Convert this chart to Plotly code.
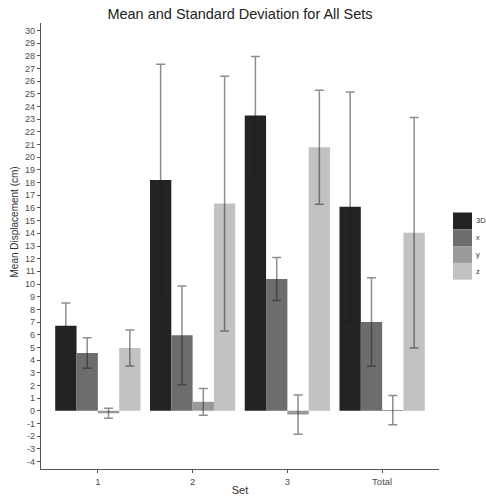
import plotly.graph_objects as go

sets = ["1", "2", "3", "Total"]
series = ["3D", "x", "y", "z"]
means = {
    "3D": [6.7, 18.2, 23.3, 16.1],
    "x": [4.55, 5.95, 10.4, 7.0],
    "y": [-0.2, 0.7, -0.3, 0.05],
    "z": [4.95, 16.35, 20.8, 14.05],
}
sds = {
    "3D": [1.8, 9.15, 4.65, 9.05],
    "x": [1.2, 3.9, 1.7, 3.5],
    "y": [0.4, 1.05, 1.55, 1.15],
    "z": [1.43, 10.05, 4.5, 9.1],
}
colors = {"3D": "#232323", "x": "#6d6d6d", "y": "#9a9a9a", "z": "#c2c2c2"}
y_ticks = list(range(-4, 31))

W, H = 486, 497
L, R, T, B = 41, 47, 23, 28
pw, ph = W - L - R, H - T - B

fig = go.Figure()
for s in series:
    fig.add_trace(go.Bar(
        name=s, x=sets, y=means[s], marker_color=colors[s],
        marker_line_width=0, showlegend=False,
        error_y=dict(type="data", array=sds[s], visible=True,
                     color="rgba(30,30,30,0.5)", thickness=1.5, width=4.5),
    ))

# legend (ggplot-style contiguous keys)
key_h = 16.8
key_top = 212.5
for i, s in enumerate(series):
    y0 = key_top + i * key_h
    y1 = y0 + key_h
    fig.add_shape(type="rect", xref="paper", yref="paper",
                  x0=(453 - L) / pw, x1=(472 - L) / pw,
                  y0=(H - B - y1) / ph, y1=(H - B - y0) / ph,
                  fillcolor=colors[s], line_width=0)
    fig.add_annotation(xref="paper", yref="paper", x=(474 - L) / pw,
                       y=(H - B - (y0 + y1) / 2) / ph, text=s, showarrow=False,
                       xanchor="left", yanchor="middle",
                       font=dict(size=7.5, color="#333333"))

# y-axis title (placed like the reference)
fig.add_annotation(xref="paper", yref="paper", x=(14 - L) / pw,
                   y=(H - B - 222.5) / ph, text="Mean Displacement (cm)",
                   textangle=-90, showarrow=False, xanchor="center", yanchor="middle",
                   font=dict(size=10, color="#333333"))

fig.update_layout(
    width=W, height=H,
    margin=dict(l=L, r=R, t=T, b=B, autoexpand=False),
    plot_bgcolor="white", paper_bgcolor="white",
    barmode="group", bargap=0.1, bargroupgap=0,
    font=dict(family="Liberation Sans, Arial, sans-serif", color="#333333"),
    title=dict(text="Mean and Standard Deviation for All Sets", x=(240) / W, xanchor="center",
               y=1 - 14 / H, yanchor="middle", font=dict(size=14.5, color="#222222")),
    showlegend=False,
    xaxis=dict(title=dict(text="Set", font=dict(size=11), standoff=0),
               showline=True, linecolor="#555555", linewidth=1.2,
               ticks="outside", ticklen=3, tickcolor="#555555",
               tickfont=dict(size=9.5, color="#4d4d4d"), showgrid=False,
               range=[-0.6, 3.6], automargin=False),
    yaxis=dict(showline=True, linecolor="#555555", linewidth=1.2,
               ticks="outside", ticklen=3, tickcolor="#555555",
               tickvals=y_ticks, ticktext=[str(v) for v in y_ticks],
               tickfont=dict(size=9, color="#4d4d4d"), showgrid=False,
               zeroline=False, range=[-4.6, 30.6], automargin=False),
)

fig.write_html("out.html", config={"displayModeBar": False},
               post_script="document.body.style.margin='0';document.body.style.overflow='hidden';")
